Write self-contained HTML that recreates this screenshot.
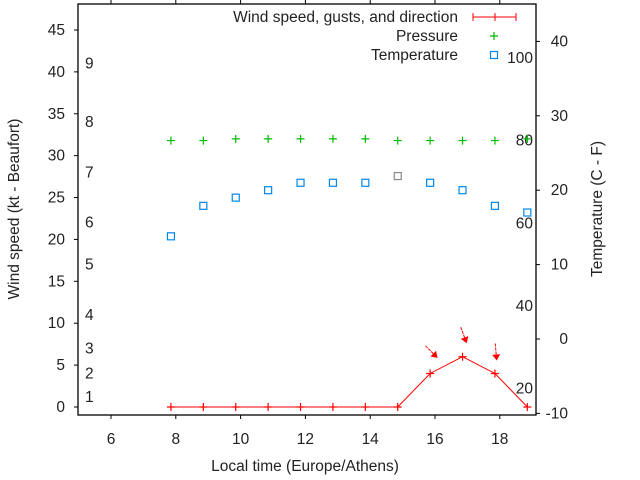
<!DOCTYPE html>
<html><head><meta charset="utf-8"><style>
body{margin:0;background:#fff}
svg{display:block;font-family:"Liberation Sans",sans-serif;font-size:15.5px;fill:#222}
</style></head><body>
<svg id="c" width="640" height="480" viewBox="0 0 640 480"></svg>
<script>
const times=[7.85,8.85,9.85,10.85,11.85,12.85,13.85,14.85,15.85,16.85,17.85,18.85];
const wind=[0,0,0,0,0,0,0,0,4,6,4,0];
const windDir=[null,null,null,null,null,null,null,null,315,340,355,null];
const pressure=[31.8,31.8,32,32,32,32,32,31.8,31.8,31.8,31.8,32];
const tempC=[13.8,17.9,19,20,21,21,21,21.9,21,20,17.9,17];
const xTicks=[6,8,10,12,14,16,18];
const yTicks=[0,5,10,15,20,25,30,35,40,45];
const y2Ticks=[-10,0,10,20,30,40];
const beaufort=[[1,1.2],[2,4],[3,7],[4,11],[5,17],[6,22],[7,28],[8,34],[9,41]];
const fahr=[20,40,60,80,100];
const L=78,R=536,T=4,B=415;
const X=v=>111+(v-6)*32.4;
const Y=v=>407-v*8.378;
const Y2=v=>339-v*7.44;
const s=document.getElementById('c');const NS='http://www.w3.org/2000/svg';
function mk(t,a,txt){const e=document.createElementNS(NS,t);for(const k in a)e.setAttribute(k,a[k]);if(txt!=null)e.textContent=txt;s.appendChild(e);return e;}
let e;
e=mk('rect',{x:L,y:T,width:R-L,height:B-T,fill:'none',stroke:'#000','stroke-width':1.3});

xTicks.forEach(v=>{const x=X(v);
 e=mk('line',{x1:x,y1:B,x2:x,y2:B+4,stroke:'#000'});
 e=mk('line',{x1:x,y1:T,x2:x,y2:T-4,stroke:'#000'});
 e=mk('text',{x:x,y:444,'text-anchor':'middle'},v);});
yTicks.forEach(v=>{const y=Y(v);
 e=mk('line',{x1:L-4,y1:y,x2:L,y2:y,stroke:'#000'});
 e=mk('text',{x:65,y:y+5,'text-anchor':'end'},v);});
y2Ticks.forEach(v=>{const y=Y2(v);
 e=mk('line',{x1:R,y1:y,x2:R+4,y2:y,stroke:'#000'});
 e=mk('text',{x:568,y:y+5,'text-anchor':'end'},v);});
beaufort.forEach(b=>{e=mk('text',{x:85,y:Y(b[1])+5},b[0]);});
fahr.forEach(f=>{e=mk('text',{x:533,y:Y2((f-32)/1.8)+5,'text-anchor':'end'},f);});
e=mk('text',{x:305,y:471,'text-anchor':'middle'},'Local time (Europe/Athens)');
e=mk('text',{x:0,y:0,'text-anchor':'middle',transform:'translate(19,209) rotate(-90)'},'Wind speed (kt - Beaufort)');
e=mk('text',{x:0,y:0,'text-anchor':'middle',transform:'translate(602,209) rotate(-90)'},'Temperature (C - F)');
e=mk('polyline',{points:times.map((t,i)=>X(t)+','+Y(wind[i])).join(' '),fill:'none',stroke:'#f00','stroke-width':1});

function plus(x,y,c,n){e=mk('path',{d:`M${x-4},${y}h8M${x},${y-4}v8`,stroke:c,'stroke-width':1.2});}
times.forEach((t,i)=>plus(X(t),Y(wind[i]),'#f00','wind-point'));
times.forEach((t,i)=>plus(X(t),Y(pressure[i]),'#0b0','pressure-point'));
times.forEach((t,i)=>{e=mk('rect',{x:X(t)-3.5,y:Y2(tempC[i])-3.5,width:7,height:7,fill:'none',stroke:i==7?'#888':'#08e','stroke-width':1.2});});
times.forEach((t,i)=>{if(windDir[i]==null)return;const cx=X(t)+1,cy=Y(wind[i])-22;const a=windDir[i]*Math.PI/180;
 const dx=-Math.sin(a),dy=Math.cos(a);const x1=cx-dx*8,y1=cy-dy*8,x2=cx+dx*6,y2=cy+dy*6;
 e=mk('line',{x1:x1,y1:y1,x2:x2,y2:y2,stroke:'#f00','stroke-dasharray':'3,1'});
 const px=-dy,py=dx;
 e=mk('polygon',{points:`${x2+dx*3},${y2+dy*3} ${x2-dx*3+px*4},${y2-dy*3+py*4} ${x2-dx*3-px*4},${y2-dy*3-py*4}`,fill:'#f00'});});
e=mk('text',{x:458,y:22,'text-anchor':'end'},'Wind speed, gusts, and direction');
e=mk('path',{d:'M473,17h43M473,13v8M495,13v8M516,13v8',stroke:'#f00'});
e=mk('text',{x:458,y:41,'text-anchor':'end'},'Pressure');
plus(494,36,'#0b0','legend-pressure-symbol');
e=mk('text',{x:458,y:60,'text-anchor':'end'},'Temperature');
e=mk('rect',{x:490.5,y:51.5,width:7,height:7,fill:'none',stroke:'#08e','stroke-width':1.2});
</script>
</body></html>
